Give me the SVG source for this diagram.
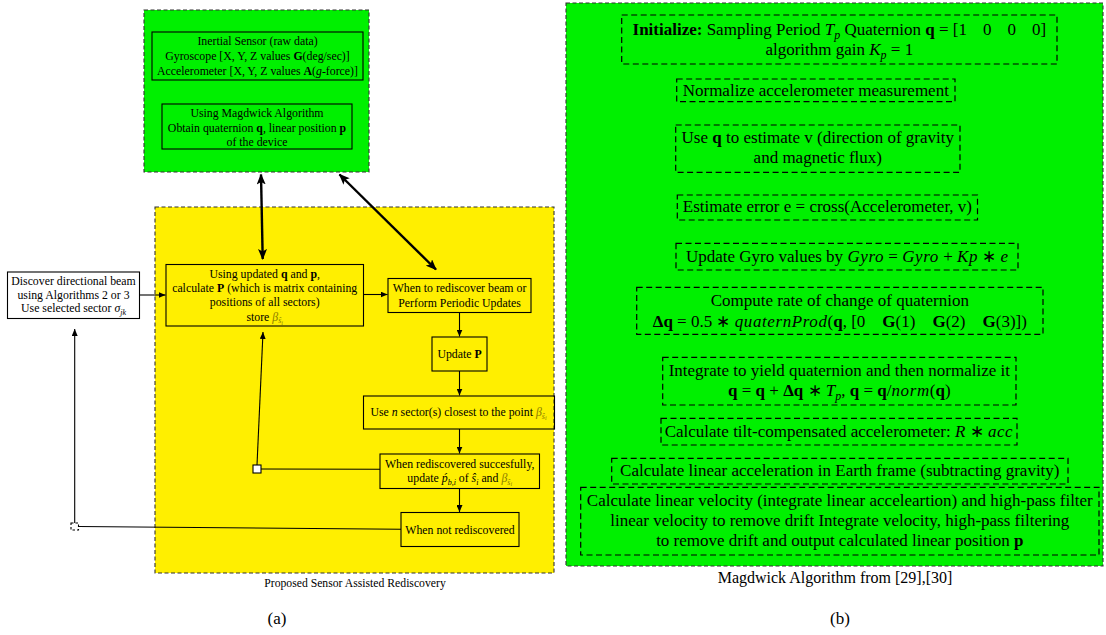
<svg xmlns="http://www.w3.org/2000/svg" width="1106" height="635" viewBox="0 0 1106 635">
<style>
  text { font-family: "Liberation Serif", "Times New Roman", serif; fill: #000; }
  .s { font-size: 11.8px; text-anchor: middle; }
  .r { font-size: 17px; text-anchor: middle; }
  .cap { font-size: 11.7px; text-anchor: middle; }
  .lab { font-size: 17px; text-anchor: middle; }
  .b { font-weight: bold; }
  .i { font-style: italic; }
  .m { font-style: italic; letter-spacing: 0.6px; }
  .beta { fill: #8c7d00; font-style: italic; }
  .outer { stroke: #333; stroke-width: 1.1; stroke-dasharray: 4 2.5; }
  .box { fill: none; stroke: #000; stroke-width: 1.1; }
  .dbox { fill: none; stroke: #000; stroke-width: 1.2; stroke-dasharray: 6 3.5; }
  .conn { fill: none; stroke: #000; stroke-width: 1.1; }
  .thick { fill: none; stroke: #000; stroke-width: 2.4; }
</style>
<defs>
  <marker id="ah" markerUnits="userSpaceOnUse" markerWidth="7" markerHeight="6" refX="7" refY="3" orient="auto">
    <path d="M0,0 L7,3 L0,6 z" fill="#000"/>
  </marker>
  <marker id="big" markerUnits="userSpaceOnUse" markerWidth="11" markerHeight="9" refX="10" refY="4.5" orient="auto-start-reverse">
    <path d="M0,0 L11,4.5 L0,9 L2.5,4.5 z" fill="#000"/>
  </marker>
</defs>

<!-- Panel backgrounds -->
<rect id="sensor-panel" x="144" y="10" width="225" height="162" fill="#00f000" class="outer"/>
<rect id="rediscovery-panel" x="155" y="207" width="399" height="366" fill="#ffef00" class="outer"/>
<rect id="magdwick-panel" x="566" y="3" width="537" height="563" fill="#00f000" class="outer"/>

<!-- Left sensor nodes -->
<g id="inertial-sensor">
  <rect x="152" y="32" width="211" height="48" class="box"/>
  <text class="s" x="257.5" y="45">Inertial Sensor (raw data)</text>
  <text class="s" x="257.5" y="60">Gyroscope [X, Y, Z values <tspan class="b">G</tspan>(deg/sec)]</text>
  <text class="s" x="257.5" y="74.5">Accelerometer [X, Y, Z values <tspan class="b">A</tspan>(<tspan class="i">g</tspan>-force)]</text>
</g>
<g id="magdwick-step">
  <rect x="162" y="104" width="190" height="45" class="box"/>
  <text class="s" x="257" y="117">Using Magdwick Algorithm</text>
  <text class="s" x="257" y="132">Obtain quaternion <tspan class="b">q</tspan>, linear position <tspan class="b">p</tspan></text>
  <text class="s" x="257" y="146">of the device</text>
</g>

<g id="discover">
  <rect x="7.5" y="272" width="132" height="46.5" fill="#fff" class="box"/>
  <text class="s" x="73.5" y="285">Discover directional beam</text>
  <text class="s" x="73.5" y="298.5">using Algorithms 2 or 3</text>
  <text class="s" x="73.5" y="312">Use selected sector <tspan class="i">σ</tspan><tspan class="i" font-size="8" dy="2.5">jk</tspan></text>
</g>

<g id="calc-p">
  <rect x="166" y="264.5" width="197.5" height="61.5" class="box"/>
  <text class="s" x="264.7" y="277.5">Using updated <tspan class="b">q</tspan> and <tspan class="b">p</tspan>,</text>
  <text class="s" x="264.7" y="292">calculate <tspan class="b">P</tspan> (which is matrix containing</text>
  <text class="s" x="264.7" y="306">positions of all sectors)</text>
  <text class="s" x="264.7" y="320.5">store <tspan class="beta">β</tspan><tspan class="beta" font-size="8" dy="2.5">ŝ</tspan><tspan class="beta" font-size="6" dy="1.5">i</tspan></text>
</g>

<g id="when-to">
  <rect x="388" y="278.5" width="143" height="34" class="box"/>
  <text class="s" x="459.5" y="291.5">When to rediscover beam or</text>
  <text class="s" x="459.5" y="306.5">Perform Periodic Updates</text>
</g>

<g id="update-p">
  <rect x="432" y="337" width="55" height="34" class="box"/>
  <text class="s" x="459.5" y="357.5">Update <tspan class="b">P</tspan></text>
</g>

<g id="use-n">
  <rect x="363.5" y="396" width="191" height="33" class="box"/>
  <text class="s" x="458.5" y="416">Use <tspan class="i">n</tspan> sector(s) closest to the point <tspan class="beta">β</tspan><tspan class="beta" font-size="8" dy="2.5">ŝ</tspan><tspan class="beta" font-size="6" dy="1.5">i</tspan></text>
</g>

<g id="rediscovered">
  <rect x="380" y="454" width="159.5" height="34.5" class="box"/>
  <text class="s" x="459.7" y="467.5">When rediscovered succesfully,</text>
  <text class="s" x="459.7" y="482">update <tspan class="i">ṕ</tspan><tspan class="i" font-size="8" dy="2.5">b,i</tspan><tspan dy="-2.5"> of </tspan><tspan class="i">ŝ</tspan><tspan class="i" font-size="8" dy="2.5">i</tspan><tspan dy="-2.5"> and </tspan><tspan class="beta">β</tspan><tspan class="beta" font-size="8" dy="2.5">ŝ</tspan><tspan class="beta" font-size="6" dy="1.5">i</tspan></text>
</g>

<g id="not-rediscovered">
  <rect x="401" y="512.5" width="118" height="34" class="box"/>
  <text class="s" x="460" y="533.5">When not rediscovered</text>
</g>

<g id="junction-1">
  <rect x="253" y="465" width="8" height="8" fill="#fff" stroke="#000" stroke-width="1.1"/>
</g>
<g id="junction-2">
  <rect x="71" y="523" width="7.5" height="7" fill="#fff" stroke="#000" stroke-width="1.1" stroke-dasharray="2.5 2"/>
</g>

<!-- Connectors -->
<g id="connectors">
  <line x1="139.5" y1="295" x2="165.5" y2="295" class="conn" marker-end="url(#ah)"/>
  <line x1="363.5" y1="294.5" x2="387.5" y2="294.5" class="conn" marker-end="url(#ah)"/>
  <line x1="459.5" y1="312.5" x2="459.5" y2="336.5" class="conn" marker-end="url(#ah)"/>
  <line x1="459.5" y1="371" x2="459.5" y2="395.5" class="conn" marker-end="url(#ah)"/>
  <line x1="459.5" y1="429" x2="459.5" y2="453.5" class="conn" marker-end="url(#ah)"/>
  <line x1="459.5" y1="488.5" x2="459.5" y2="512" class="conn" marker-end="url(#ah)"/>
  <line x1="380" y1="469.3" x2="261" y2="469" class="conn"/>
  <line x1="257" y1="465" x2="263" y2="332" class="conn" marker-end="url(#ah)"/>
  <line x1="401" y1="529.3" x2="78.5" y2="526.5" class="conn"/>
  <line x1="74.7" y1="523" x2="74.7" y2="329" class="conn" marker-end="url(#ah)"/>
  <line x1="261" y1="174.5" x2="262.7" y2="259" class="thick" marker-start="url(#big)" marker-end="url(#big)"/>
  <line x1="339.5" y1="174.5" x2="436" y2="269.5" class="thick" marker-start="url(#big)" marker-end="url(#big)"/>
</g>

<!-- Right: Magdwick steps -->
<g id="init">
  <rect x="621.7" y="15" width="435.3" height="49" class="dbox"/>
  <text class="r" x="839.3" y="35"><tspan class="b">Initialize:</tspan> Sampling Period <tspan class="i">T</tspan><tspan class="i" font-size="12" dy="4">p</tspan><tspan dy="-4"> Quaternion </tspan><tspan class="b">q</tspan> = [1<tspan dx="16">0</tspan><tspan dx="16">0</tspan><tspan dx="16">0]</tspan></text>
  <text class="r" x="839.3" y="55">algorithm gain <tspan class="i">K</tspan><tspan class="i" font-size="12" dy="4">p</tspan><tspan dy="-4"> = 1</tspan></text>
</g>
<g id="normalize">
  <rect x="676.7" y="79" width="278.3" height="22.7" class="dbox"/>
  <text class="r" x="815.8" y="96">Normalize accelerometer measurement</text>
</g>
<g id="estimate-v">
  <rect x="675.7" y="125" width="284.3" height="47.3" class="dbox"/>
  <text class="r" x="817.8" y="143">Use <tspan class="b">q</tspan> to estimate v (direction of gravity</text>
  <text class="r" x="817.8" y="163">and magnetic flux)</text>
</g>
<g id="estimate-error">
  <rect x="677.3" y="195" width="300.2" height="25" class="dbox"/>
  <text class="r" x="827.4" y="212">Estimate error e = cross(Accelerometer, v)</text>
</g>
<g id="update-gyro">
  <rect x="676" y="243.3" width="342" height="26.7" class="dbox"/>
  <text class="r" x="847" y="261.5">Update Gyro values by <tspan class="m">Gyro</tspan> = <tspan class="m">Gyro</tspan> + <tspan class="m">Kp</tspan> ∗ <tspan class="i">e</tspan></text>
</g>
<g id="rate">
  <rect x="636.7" y="287.3" width="406.3" height="47" class="dbox"/>
  <text class="r" x="839.8" y="305.5">Compute rate of change of quaternion</text>
  <text class="r" x="839.8" y="327"><tspan class="b">Δq</tspan> = 0.5 ∗ <tspan class="m">quaternProd</tspan>(<tspan class="b">q</tspan>, [0<tspan dx="17" class="b">G</tspan>(1)<tspan dx="17" class="b">G</tspan>(2)<tspan dx="17" class="b">G</tspan>(3)])</text>
</g>
<g id="integrate">
  <rect x="662.7" y="357.3" width="353.3" height="47.7" class="dbox"/>
  <text class="r" x="839.3" y="375.5">Integrate to yield quaternion and then normalize it</text>
  <text class="r" x="839.3" y="395.5"><tspan class="b">q</tspan> = <tspan class="b">q</tspan> + <tspan class="b">Δq</tspan> ∗ <tspan class="i">T</tspan><tspan class="i" font-size="12" dy="4">p</tspan><tspan dy="-4">, </tspan><tspan class="b">q</tspan> = <tspan class="b">q</tspan>/<tspan class="m">norm</tspan>(<tspan class="b">q</tspan>)</text>
</g>
<g id="tilt">
  <rect x="661" y="418.3" width="356" height="26.7" class="dbox"/>
  <text class="r" x="839" y="437">Calculate tilt-compensated accelerometer: <tspan class="i">R</tspan> ∗ <tspan class="m">acc</tspan></text>
</g>
<g id="linear-acc">
  <rect x="611.7" y="458.3" width="456.3" height="25.7" class="dbox"/>
  <text class="r" x="839.8" y="475.5">Calculate linear acceleration in Earth frame (subtracting gravity)</text>
</g>
<g id="linear-vel">
  <rect x="580.7" y="487.3" width="518.3" height="67.7" class="dbox"/>
  <text class="r" x="839.8" y="505.5">Calculate linear velocity (integrate linear acceleartion) and high-pass filter</text>
  <text class="r" x="839.8" y="525.5">linear velocity to remove drift Integrate velocity, high-pass filtering</text>
  <text class="r" x="839.8" y="545.5">to remove drift and output calculated linear position <tspan class="b">p</tspan></text>
</g>

<!-- Captions -->
<text class="cap" x="355" y="587">Proposed Sensor Assisted Rediscovery</text>
<text font-size="16" text-anchor="middle" x="835" y="583">Magdwick Algorithm from [29],[30]</text>
<text class="lab" x="277" y="624">(a)</text>
<text class="lab" x="840" y="624">(b)</text>
</svg>
